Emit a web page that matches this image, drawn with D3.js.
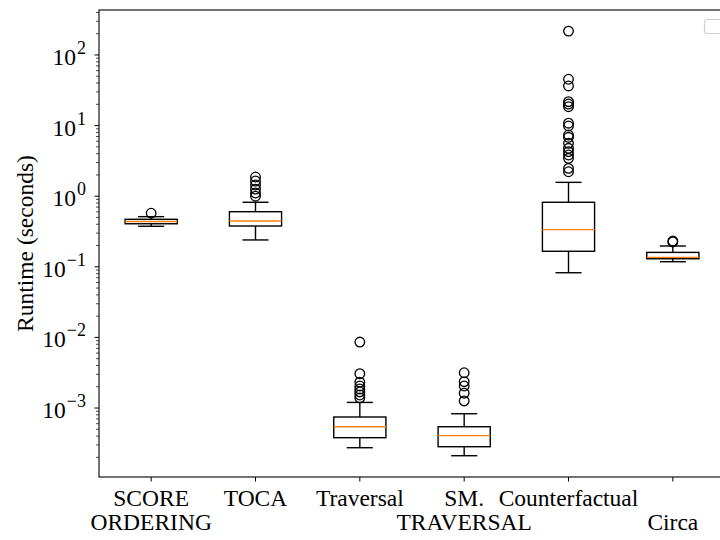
<!DOCTYPE html>
<html><head><meta charset="utf-8">
<script src="https://cdn.jsdelivr.net/npm/d3@7"></script>
<style>body{margin:0;background:#fff}svg{display:block}text{font-family:"Liberation Serif","Times New Roman",serif;fill:#000}</style>
</head><body><svg id="c" width="720" height="540"></svg>
<script>
const categories = ["SCORE\nORDERING","TOCA","Traversal","SM.\nTRAVERSAL","Counterfactual","\nCirca"];
const whiskerLow  = [0.375, 0.24, 2.74e-4, 2.11e-4, 0.0824, 0.118];
const q1          = [0.407, 0.378, 3.8e-4, 2.83e-4, 0.166, 0.130];
const median      = [0.438, 0.446, 5.43e-4, 4.06e-4, 0.336, 0.136];
const q3          = [0.471, 0.603, 7.46e-4, 5.43e-4, 0.82, 0.160];
const whiskerHigh = [0.513, 0.82, 1.2e-3, 8.3e-4, 1.57, 0.197];
const outliers = [
  [0.573],
  [1.0, 1.11, 1.26, 1.44, 1.64, 1.87],
  [8.6e-3, 3.06e-3, 2.33e-3, 2.05e-3, 1.86e-3, 1.69e-3, 1.53e-3, 1.39e-3],
  [3.16e-3, 2.36e-3, 2.05e-3, 1.62e-3, 1.26e-3],
  [218, 45.3, 36.4, 21.8, 20.2, 18.5, 10.8, 9.87, 7.36, 6.83, 5.61, 4.77, 4.27, 3.83, 3.44, 2.48, 2.22],
  [0.225, 0.232]
];
const yTickExps = [-3,-2,-1,0,1,2];

const svg = d3.select("#c");
const L = 99, T = 10, B = 477, R = 725;
const x = d3.scaleLinear().domain([0.5, 6.5]).range([L, R]);
const y = d3.scaleLog().domain([Math.pow(10,-3.977), Math.pow(10,2.637)]).range([B, T]);

const g = svg.append("g");
// minor ticks
const minor = [];
for (let e = -4; e <= 2; e++) for (let m = 2; m <= 9; m++) {
  const v = m * Math.pow(10, e);
  if (v >= y.domain()[0] && v <= y.domain()[1]) minor.push(v);
}
g.selectAll(".mn").data(minor).join("line")
  .attr("x1", L - 3).attr("x2", L).attr("y1", d => y(d)).attr("y2", d => y(d))
  .attr("stroke", "#000").attr("stroke-width", 0.7);
g.selectAll(".mj").data(yTickExps).join("line")
  .attr("x1", L - 4.5).attr("x2", L).attr("y1", d => y(Math.pow(10,d))).attr("y2", d => y(Math.pow(10,d)))
  .attr("stroke", "#000").attr("stroke-width", 1);
const yl = g.selectAll(".yl").data(yTickExps).join("text")
  .attr("x", 86).attr("y", d => y(Math.pow(10,d)) + 10)
  .attr("text-anchor", "end").attr("font-size", 23.5);
yl.append("tspan").text("10");
yl.append("tspan").attr("dx", 1).attr("dy", -11).attr("font-size", 18).text(d => d < 0 ? "\u2212" + (-d) : String(d));

// x ticks
const xs = d3.range(1, 7);
g.selectAll(".xt").data(xs).join("line")
  .attr("x1", d => x(d)).attr("x2", d => x(d)).attr("y1", B).attr("y2", B + 4.5)
  .attr("stroke", "#000").attr("stroke-width", 1);
xs.forEach((p, i) => {
  const lines = categories[i].split("\n");
  const t = g.append("text").attr("text-anchor", "middle").attr("font-size", 23.5);
  lines.forEach((ln, j) => {
    t.append("tspan").attr("x", x(p)).attr("y", 505.5 + j * 24.5).text(ln);
  });
});

// boxes
const bw = 0.25, cw = 0.125;
xs.forEach((p, i) => {
  const bg = g.append("g").attr("stroke", "#000").attr("fill", "none").attr("stroke-width", 1.4);
  bg.append("rect").attr("x", x(p - bw)).attr("width", x(p + bw) - x(p - bw))
    .attr("y", y(q3[i])).attr("height", y(q1[i]) - y(q3[i]));
  bg.append("line").attr("x1", x(p)).attr("x2", x(p)).attr("y1", y(q3[i])).attr("y2", y(whiskerHigh[i]));
  bg.append("line").attr("x1", x(p)).attr("x2", x(p)).attr("y1", y(q1[i])).attr("y2", y(whiskerLow[i]));
  bg.append("line").attr("x1", x(p - cw)).attr("x2", x(p + cw)).attr("y1", y(whiskerHigh[i])).attr("y2", y(whiskerHigh[i]));
  bg.append("line").attr("x1", x(p - cw)).attr("x2", x(p + cw)).attr("y1", y(whiskerLow[i])).attr("y2", y(whiskerLow[i]));
  g.append("line").attr("x1", x(p - bw)).attr("x2", x(p + bw)).attr("y1", y(median[i])).attr("y2", y(median[i]))
    .attr("stroke", "#ff7f0e").attr("stroke-width", 1.4);
  g.selectAll(null).data(outliers[i]).join("circle")
    .attr("cx", x(p)).attr("cy", d => y(d)).attr("r", 4.8)
    .attr("fill", "none").attr("stroke", "#000").attr("stroke-width", 1.3);
});

// frame
g.append("rect").attr("x", L).attr("y", T).attr("width", R - L).attr("height", B - T)
  .attr("fill", "none").attr("stroke", "#000").attr("stroke-width", 1.1);

// empty legend
g.append("rect").attr("x", 704.5).attr("y", 19.5).attr("width", 20).attr("height", 14).attr("rx", 3)
  .attr("fill", "#fff").attr("stroke", "#d0d0d0").attr("stroke-width", 1.2);

// y label
svg.append("text").attr("transform", `translate(33,${(T + B) / 2}) rotate(-90)`)
  .attr("text-anchor", "middle").attr("font-size", 23.5).text("Runtime (seconds)");
</script></body></html>
